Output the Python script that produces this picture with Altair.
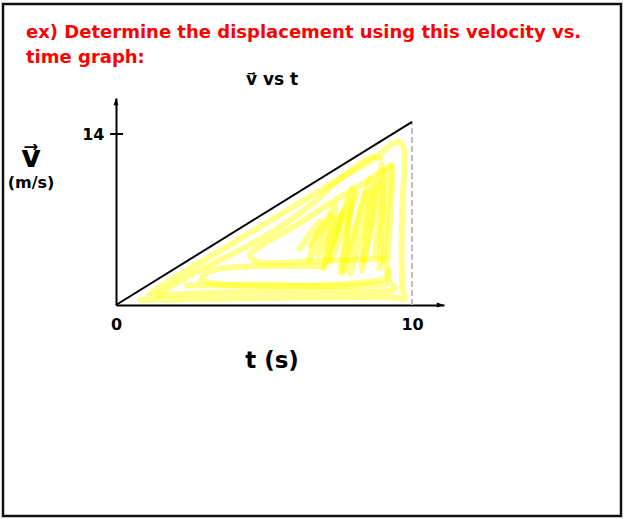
import altair as alt
import pandas as pd

# ---- axis extents (data units: t in s, v in m/s) ----
T_MAX = 11.08
V_MAX = 16.95

# velocity vs time: straight line from rest
line_t = [0, 10]
line_v = [0, 15]

# axis tick labels
x_tick_values = [0, 10]
y_tick_values = [14]

# texts
title_lines = ["ex) Determine the displacement using this velocity vs.", "time graph:"]
plot_title = "v\u20d7 vs t"
y_symbol = "v\u20d7"
y_unit = "(m/s)"
x_title = "t (s)"

# highlighter strokes shading the area under the line (t, v) per stroke
hl_A_t = [0.81, 3.18, 6.55, 9.48, 9.76, 9.68, 9.66, 9.71, 9.54, 9.31, 8.81, 7.68, 6.55, 5.43, 4.30, 3.18, 2.05, 1.26, 1.04]
hl_A_v = [0.41, 0.49, 0.63, 0.60, 0.49, 1.36, 7.37, 12.96, 13.37, 13.16, 12.14, 10.51, 8.87, 7.23, 5.59, 3.96, 2.32, 1.09, 0.55]

hl_B_t = [1.49, 4.30, 7.12, 9.43, 9.20, 9.26, 9.31, 9.14, 8.36, 7.23, 6.10, 4.75, 4.53, 4.75, 6.78, 9.20]
hl_B_v = [0.82, 1.09, 1.15, 1.36, 2.05, 7.37, 11.46, 11.19, 9.96, 8.32, 6.55, 4.64, 4.09, 3.55, 3.60, 3.82]

hl_C_t = [7.00, 3.18, 2.89, 9.14, 9.20]
hl_C_v = [3.17, 2.78, 2.05, 2.24, 2.80]

hl_D_t = [7.00, 7.91, 7.68, 8.47, 7.91, 8.81, 8.36, 9.09, 8.75, 9.26, 9.03]
hl_D_v = [3.00, 8.73, 2.73, 9.28, 2.59, 10.10, 3.55, 10.92, 4.09, 11.33, 3.55]

hl_E_t = [6.55, 7.29, 6.84, 7.68, 7.23, 8.13]
hl_E_v = [4.91, 7.37, 4.09, 7.64, 3.55, 9.14]

hl_F_t = [1.37, 2.73, 4.30, 5.65, 6.78, 7.45, 8.69, 8.92]
hl_F_v = [0.82, 2.73, 4.64, 6.55, 8.60, 10.10, 12.14, 12.01]

hl_I_t = [6.20, 6.90, 6.50, 7.40, 7.05, 8.00, 7.60, 8.60, 8.30, 9.00, 8.90]
hl_I_v = [4.60, 6.90, 3.60, 8.20, 3.30, 9.60, 2.60, 10.40, 2.80, 11.50, 3.00]

hl_J_t = [2.40, 5.00, 7.50, 9.10]
hl_J_v = [1.60, 1.65, 1.55, 1.70]

strokes = {"A": (hl_A_t, hl_A_v), "B": (hl_B_t, hl_B_v), "C": (hl_C_t, hl_C_v),
           "D": (hl_D_t, hl_D_v), "E": (hl_E_t, hl_E_v), "F": (hl_F_t, hl_F_v),
           "I": (hl_I_t, hl_I_v), "J": (hl_J_t, hl_J_v)}
rows = []
for name, (ts, vs) in strokes.items():
    for i, (t, v) in enumerate(zip(ts, vs)):
        rows.append({"stroke": name, "i": i, "t": t, "v": v})
hl_df = pd.DataFrame(rows)

line_df = pd.DataFrame({"t": line_t, "v": line_v})

BOLD = "DejaVu Sans"

x_scale = alt.Scale(domain=[0, T_MAX], nice=False, zero=False)
y_scale = alt.Scale(domain=[0, V_MAX], nice=False, zero=False)

x_axis = alt.Axis(values=x_tick_values, title=None, grid=False, ticks=False,
                  domainColor="black", domainWidth=2, labelFont=BOLD, labelFontSize=16,
                  labelFontWeight="bold", labelColor="black", labelPadding=11,
                  labelFlush=False, labelOverlap=False, format="d")
y_axis = alt.Axis(values=y_tick_values, title=None, grid=False, ticks=False,
                  domainColor="black", domainWidth=2, labelFont=BOLD, labelFontSize=16,
                  labelFontWeight="bold", labelColor="black", labelPadding=12,
                  labelOverlap=False, format="d")

X = alt.X("t:Q", scale=x_scale, axis=x_axis)
Y = alt.Y("v:Q", scale=y_scale, axis=y_axis)

# highlighter scribble
highlight = alt.Chart(hl_df).mark_line(
    color="#ffff00", opacity=0.45, strokeWidth=6, strokeCap="round",
    strokeJoin="round", interpolate="catmull-rom"
).encode(x=X, y=Y, detail="stroke:N", order="i:Q")

# the velocity line
vline = alt.Chart(line_df).mark_line(color="black", strokeWidth=2).encode(x=X, y=Y)

# dashed drop line at the end time
drop = alt.Chart(pd.DataFrame({"t": [line_t[-1]], "v0": [0], "v1": [line_v[-1]]})).mark_rule(
    color="#bdbdbd", strokeWidth=2, strokeDash=[6, 3]
).encode(x=X, y=alt.Y("v0:Q", scale=y_scale, axis=y_axis), y2="v1:Q")

# cross tick on the v axis
ytick = alt.Chart(pd.DataFrame({"t0": [-0.2], "t1": [0.24], "v": y_tick_values})).mark_rule(
    color="black", strokeWidth=2
).encode(x=alt.X("t0:Q", scale=x_scale, axis=x_axis), x2="t1:Q", y=Y)

# arrowheads at the ends of both axes
up_arrow = alt.Chart(pd.DataFrame({"t": [0], "v": [V_MAX]})).mark_point(
    shape="M0,0L-0.6,1.8L0.6,1.8Z", filled=True, color="black", opacity=1, size=64
).encode(x=X, y=Y)
right_arrow = alt.Chart(pd.DataFrame({"t": [T_MAX], "v": [0]})).mark_point(
    shape="M0,0L-1.8,-0.6L-1.8,0.6Z", filled=True, color="black", opacity=1, size=64
).encode(x=X, y=Y)


def label(text, x, y, size, color="black", font=BOLD, align="center"):
    return alt.Chart(pd.DataFrame({"s": [text]})).mark_text(
        font=font, fontSize=size, fontWeight="bold", color=color,
        align=align, baseline="alphabetic"
    ).encode(text="s:N", x=alt.value(x), y=alt.value(y))


texts = [
    label(title_lines[0], -90, -60, 18, color="#ff0000", align="left"),
    label(title_lines[1], -90, -35, 18, color="#ff0000", align="left"),
    label(plot_title, 156, -13, 17),
    label(y_symbol, -85, 69, 30),
    label(y_unit, -85, 90, 16),
    label(x_title, 156, 270, 23),
]

# outer frame of the page
frame = alt.Chart(pd.DataFrame({"k": [0]})).mark_rect(
    fill="white", fillOpacity=0, stroke="#111", strokeWidth=2.5
).encode(x=alt.value(-113), x2=alt.value(505), y=alt.value(-94), y2=alt.value(418))

chart = alt.layer(
    highlight, drop, vline, ytick, up_arrow, right_arrow, *texts, frame
).properties(
    width=328, height=207,
    autosize=alt.AutoSizeParams(type="none"),
    padding={"left": 116, "top": 98, "right": 180, "bottom": 214},
    background="white",
).configure_view(stroke=None)

chart.save("out.html", embed_options={"renderer": "svg", "actions": False})
